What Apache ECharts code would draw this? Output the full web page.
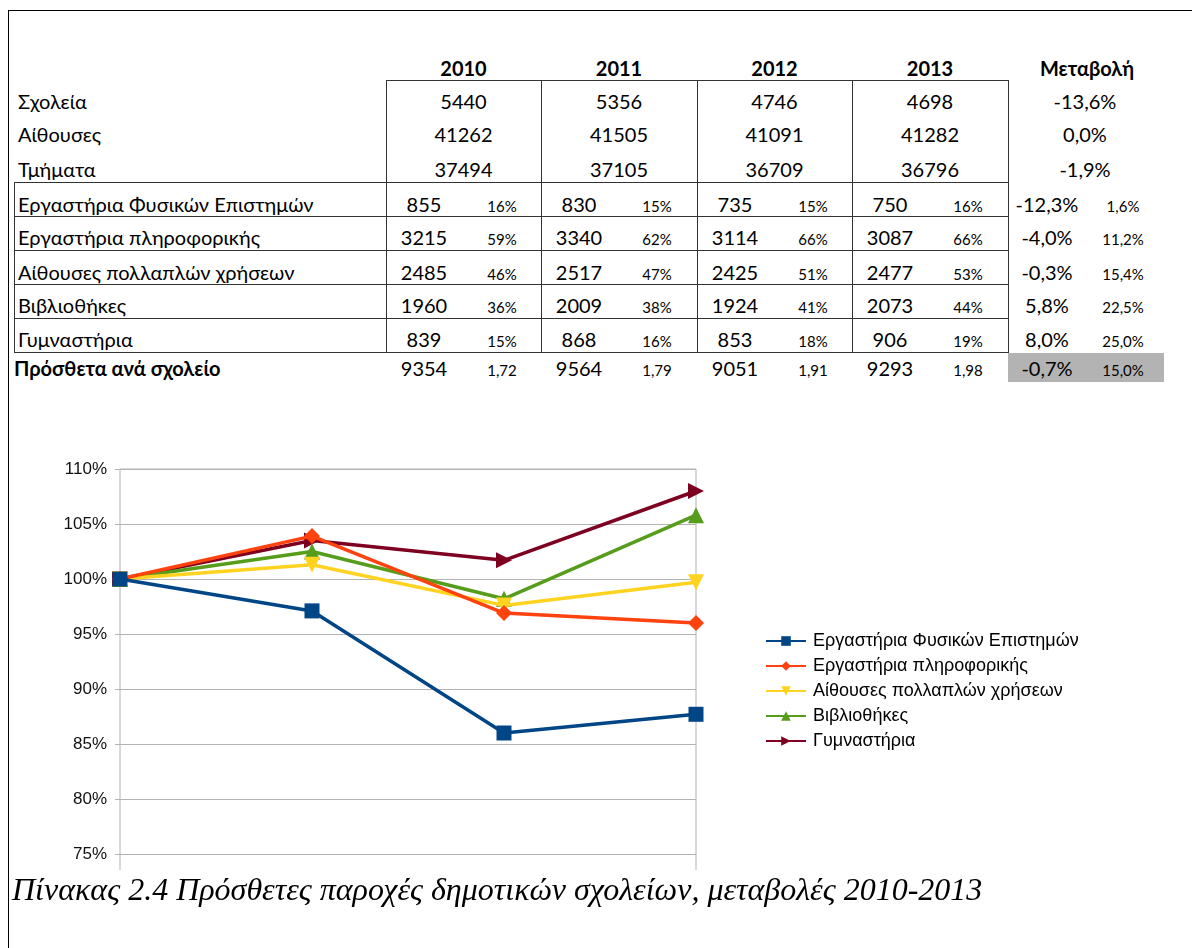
<!DOCTYPE html>
<html>
<head>
<meta charset="utf-8">
<script src="https://cdn.jsdelivr.net/npm/echarts@6/dist/echarts.min.js"></script>
<style>
  body { margin: 0; background: #fff; width: 1192px; height: 948px; overflow: hidden; position: relative; font-family: Lato, sans-serif; color: #000; }
  .t { position: absolute; white-space: nowrap; height: 30px; line-height: 30px; font-size: 20px; }
  .c { text-align: center; transform: translateX(-50%); }
  .s { font-size: 15px; }
  .b { font-weight: bold; }
  .ln { position: absolute; background: #333; }
  #wrap { position: absolute; left: 0; top: 440px; width: 1192px; height: 430px; overflow: hidden; }
  #chart { width: 1192px; height: 500px; }
  #caption { position: absolute; left: 12px; top: 869px; line-height: 40px; font-family: "Liberation Serif", serif; font-style: italic; font-size: 32px; white-space: nowrap; }
</style>
</head>
<body>
<div id="table"></div>
<div id="wrap"><div id="chart"></div></div>
<div id="caption">Πίνακας 2.4 Πρόσθετες παροχές δημοτικών σχολείων, μεταβολές 2010-2013</div>
<script>
// values from the table
const years = ['2010', '2011', '2012', '2013'];
const changeHeader = 'Μεταβολή';
const topRows = ['Σχολεία', 'Αίθουσες', 'Τμήματα'];
const topValues = [
  [5440, 5356, 4746, 4698],
  [41262, 41505, 41091, 41282],
  [37494, 37105, 36709, 36796]
];
const topChange = ['-13,6%', '0,0%', '-1,9%'];
const facilities = ['Εργαστήρια Φυσικών Επιστημών', 'Εργαστήρια πληροφορικής', 'Αίθουσες πολλαπλών χρήσεων', 'Βιβλιοθήκες', 'Γυμναστήρια'];
const facilityCounts = [
  [855, 830, 735, 750],
  [3215, 3340, 3114, 3087],
  [2485, 2517, 2425, 2477],
  [1960, 2009, 1924, 2073],
  [839, 868, 853, 906]
];
const facilityShares = [
  ['16%', '15%', '15%', '16%'],
  ['59%', '62%', '66%', '66%'],
  ['46%', '47%', '51%', '53%'],
  ['36%', '38%', '41%', '44%'],
  ['15%', '16%', '18%', '19%']
];
const facilityChange = ['-12,3%', '-4,0%', '-0,3%', '5,8%', '8,0%'];
const facilityChangeShare = ['1,6%', '11,2%', '15,4%', '22,5%', '25,0%'];
const totalLabel = 'Πρόσθετα ανά σχολείο';
const totalCounts = [9354, 9564, 9051, 9293];
const totalPerSchool = ['1,72', '1,79', '1,91', '1,98'];
const totalChange = '-0,7%';
const totalChangeShare = '15,0%';

// chart: each facility as % of its 2010 count
const indexValues = [
  [100, 97.1, 86.0, 87.7],
  [100, 103.9, 96.9, 96.0],
  [100, 101.3, 97.6, 99.7],
  [100, 102.5, 98.2, 105.8],
  [100, 103.5, 101.7, 108.0]
];
const yTicks = [70, 110, 5];

// ---- table layout ----
const colLeft = [386, 541, 697, 852];
const colRight = 1008;
const topRowY = [100.5, 134, 168.5];
const facRowY = [203.5, 237, 271.5, 305, 339];
const totalY = 368;
const table = document.getElementById('table');

function text(str, x, y, cls) {
  const d = document.createElement('div');
  d.className = 't ' + (cls || '');
  d.textContent = str;
  d.style.left = x + 'px';
  d.style.top = (y - 15) + 'px';
  table.appendChild(d);
}
function line(x, y, w, h, color) {
  const d = document.createElement('div');
  d.className = 'ln';
  d.style.left = x + 'px'; d.style.top = y + 'px';
  d.style.width = w + 'px'; d.style.height = h + 'px';
  if (color) d.style.background = color;
  table.appendChild(d);
}

// page frame
line(8, 10, 1184, 1, '#000');
line(8, 10, 1, 938, '#000');

// grey cell under the change column
line(1008, 353, 156, 29, '#b3b3b3');

// grid lines
line(386, 80, colRight - 386 + 1, 1);
colLeft.concat([colRight]).forEach(x => line(x, 80, 1, 273));
[182, 216, 250, 284, 318].forEach(y => line(14, y, colRight - 14 + 1, 1));
line(14, 352, colRight - 14 + 1, 1);
line(14, 182, 1, 171);

// header
years.forEach((yr, i) => text(yr, (colLeft[i] + (colLeft[i + 1] || colRight)) / 2, 68, 'c b'));
text(changeHeader, 1087, 68, 'c b');

// top block
topRows.forEach((lab, r) => {
  text(lab, 18, topRowY[r]);
  topValues[r].forEach((v, i) => text(String(v), (colLeft[i] + (colLeft[i + 1] || colRight)) / 2, topRowY[r], 'c'));
  text(topChange[r], 1085, topRowY[r], 'c');
});

// facilities
facilities.forEach((lab, r) => {
  const y = facRowY[r];
  text(lab, 18, y);
  facilityCounts[r].forEach((v, i) => {
    text(String(v), colLeft[i] + 38, y, 'c');
    text(facilityShares[r][i], colLeft[i] + 116, y + 2, 'c s');
  });
  text(facilityChange[r], 1047, y, 'c');
  text(facilityChangeShare[r], 1123, y + 2, 'c s');
});

// totals
text(totalLabel, 14, totalY, 'b');
totalCounts.forEach((v, i) => {
  text(String(v), colLeft[i] + 38, totalY, 'c');
  text(totalPerSchool[i], colLeft[i] + 116, totalY + 2, 'c s');
});
text(totalChange, 1047, totalY, 'c');
text(totalChangeShare, 1123, totalY + 2, 'c s');

// ---- chart ----
const colors = ['#004586', '#ff420e', '#ffd320', '#579d1c', '#7e0021'];
const symbols = ['rect', 'diamond', 'triangle', 'triangle', 'triangle'];
const symbolRotate = [0, 0, 180, 0, -90];
const symbolSize = [15, 16, 16, 16, 16];

const chart = echarts.init(document.getElementById('chart'));
const option = {
  animation: false,
  color: colors,
  grid: {
    left: 120, top: 29, width: 576, height: 440,
    show: true, borderColor: '#b3b3b3', borderWidth: 1
  },
  legend: {
    orient: 'vertical',
    left: 765, top: 192,
    padding: 0,
    itemWidth: 40, itemHeight: 12, itemGap: 7,
    textStyle: { fontFamily: 'Liberation Sans', fontSize: 18, color: '#000', padding: [0, 0, 0, 2] },
    data: facilities
  },
  xAxis: {
    type: 'category',
    data: years,
    boundaryGap: false,
    axisLine: { show: false },
    axisTick: { show: false },
    axisLabel: { show: false },
    splitLine: { show: false }
  },
  yAxis: {
    type: 'value',
    min: yTicks[0], max: yTicks[1], interval: yTicks[2],
    axisLine: { show: false },
    axisTick: { show: true, length: 5, lineStyle: { color: '#b3b3b3' } },
    axisLabel: { formatter: '{value}%', fontFamily: 'Liberation Sans', fontSize: 17, color: '#111', margin: 13 },
    splitLine: { lineStyle: { color: '#b3b3b3', width: 1 } }
  },
  series: facilities.map((name, i) => ({
    name: name,
    type: 'line',
    data: indexValues[i],
    symbol: symbols[i],
    symbolSize: symbolSize[i],
    symbolRotate: symbolRotate[i],
    showAllSymbol: true,
    z: 10 - i,
    lineStyle: { width: 3.5, color: colors[i] },
    itemStyle: { color: colors[i] }
  }))
};
chart.setOption(option);
</script>
</body>
</html>
